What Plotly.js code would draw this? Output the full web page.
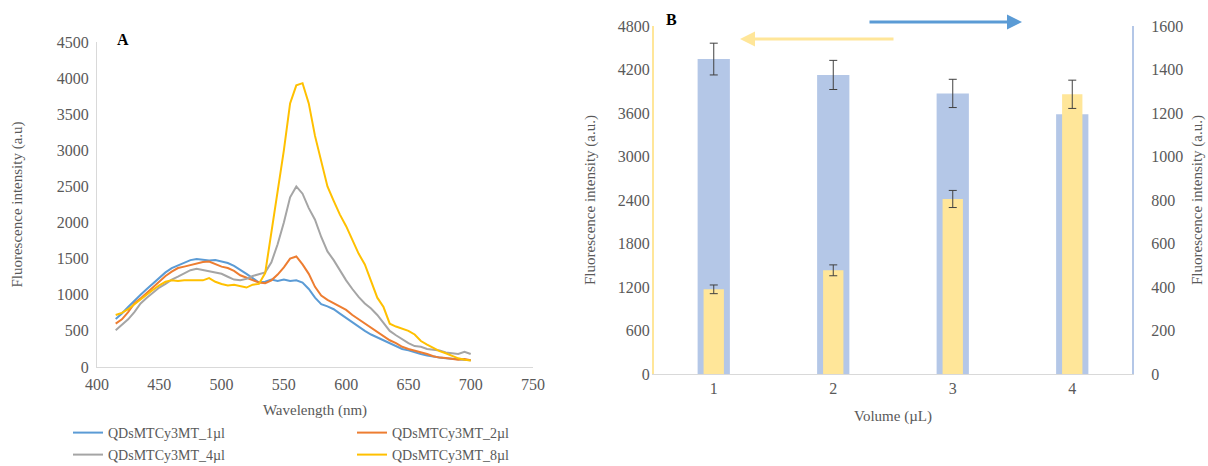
<!DOCTYPE html>
<html>
<head>
<meta charset="utf-8">
<script src="https://cdn.plot.ly/plotly-3.0.1.min.js"></script>
<style>html,body{margin:0;padding:0;background:#fff;}#chart{width:1208px;height:466px;}</style>
</head>
<body>
<div id="chart"></div>
<script>
// ---- Panel A data ----
const wavelength = [415,420,425,430,435,440,445,450,455,460,465,470,475,480,485,490,495,500,505,510,515,520,525,530,535,540,545,550,555,560,565,570,575,580,585,590,595,600,605,610,615,620,625,630,635,640,645,650,655,660,665,670,675,680,685,690,695,700];
const qd1ul = [665,740,830,920,1000,1080,1160,1240,1310,1370,1410,1440,1480,1495,1480,1475,1480,1465,1440,1400,1350,1290,1230,1170,1180,1210,1190,1210,1190,1200,1170,1080,960,870,840,800,740,680,610,550,500,450,410,370,320,290,250,230,200,180,160,140,130,120,110,105,100,95];
const qd2ul = [600,660,760,880,950,1030,1110,1180,1260,1320,1370,1390,1410,1440,1455,1460,1420,1390,1370,1330,1270,1240,1210,1170,1160,1200,1280,1380,1500,1530,1420,1290,1110,990,930,880,830,790,720,660,600,540,480,420,370,330,280,250,230,210,180,150,130,125,110,100,110,95];
const qd4ul = [510,580,660,760,880,960,1030,1100,1150,1210,1250,1300,1340,1360,1340,1330,1310,1290,1250,1210,1200,1220,1260,1290,1310,1450,1700,2000,2350,2500,2400,2200,2040,1800,1600,1480,1330,1200,1080,970,880,810,720,610,500,440,380,330,290,280,250,240,230,200,190,180,210,180];
const qd8ul = [720,750,800,870,930,1000,1070,1130,1180,1200,1190,1200,1200,1210,1200,1230,1180,1150,1130,1140,1120,1100,1140,1150,1300,1850,2400,3000,3650,3900,3930,3650,3200,2850,2500,2300,2110,1950,1750,1570,1420,1180,960,830,600,560,530,500,450,360,310,260,220,190,150,120,100,90];
const seriesNames = ["QDsMTCy3MT_1µl","QDsMTCy3MT_2µl","QDsMTCy3MT_4µl","QDsMTCy3MT_8µl"];
const xTicksA = [400,450,500,550,600,650,700,750];
const yTicksA = [0,500,1000,1500,2000,2500,3000,3500,4000,4500];

// ---- Panel B data ----
const volume = ["1","2","3","4"];
const blueVals = [1448,1375,1290,1194];     // right axis
const blueErr  = [73,67,65,0];
const yellowVals = [1168,1430,2414,3858];   // left axis
const yellowErr  = [60,75,118,195];
const yTicksBL = [0,600,1200,1800,2400,3000,3600,4200,4800];
const yTicksBR = [0,200,400,600,800,1000,1200,1400,1600];

const W = 1208, H = 466;
const px = v => v / W;
const py = v => (H - v) / H;
const FONT = "Liberation Serif, Times New Roman, serif";
const TXT = "#595959";
const TICK = {size: 16, color: TXT};

const lineColors = ["#5B9BD5","#ED7D31","#A5A5A5","#FFC000"];
const lineData = [qd1ul, qd2ul, qd4ul, qd8ul];
const legendIds = ["legend","legend","legend2","legend2"];
const traces = lineData.map((d, i) => ({
  type: "scatter", mode: "lines", x: wavelength, y: d, name: seriesNames[i],
  line: {color: lineColors[i], width: 2}, xaxis: "x", yaxis: "y", legend: legendIds[i]
}));

traces.push({
  type: "bar", x: volume, y: blueVals, xaxis: "x2", yaxis: "y2", width: 0.27,
  marker: {color: "#B4C7E7"}, showlegend: false,
  error_y: {type: "data", array: blueErr, visible: true, color: "#404040", thickness: 1, width: 4}
});
traces.push({
  type: "bar", x: volume, y: yellowVals, xaxis: "x2", yaxis: "y3", width: 0.17,
  marker: {color: "#FFE699"}, showlegend: false,
  error_y: {type: "data", array: yellowErr, visible: true, color: "#404040", thickness: 1, width: 4}
});

const legendBase = {
  orientation: "h", xanchor: "left", yanchor: "middle",
  entrywidth: 239, entrywidthmode: "pixels", tracegroupgap: 0,
  font: {family: FONT, size: 14, color: TXT}, bgcolor: "rgba(0,0,0,0)"
};

const layout = {
  width: W, height: H,
  margin: {l: 0, r: 0, t: 0, b: 0, autoexpand: false},
  paper_bgcolor: "#fff", plot_bgcolor: "rgba(0,0,0,0)",
  font: {family: FONT, size: 14, color: TXT},
  barmode: "overlay",
  showlegend: true,
  legend: Object.assign({}, legendBase, {x: px(68), y: py(433)}),
  legend2: Object.assign({}, legendBase, {x: px(68), y: py(455)}),
  xaxis: {
    domain: [px(97), px(533)], range: [400, 750], tickvals: xTicksA,
    showgrid: false, zeroline: false, showline: true, linecolor: "#D9D9D9", linewidth: 1,
    ticks: "", tickfont: TICK, anchor: "y", automargin: false, ticklabelstandoff: 3,
    title: {text: "Wavelength (nm)", font: {size: 15, color: TXT}, standoff: 12}
  },
  yaxis: {
    domain: [py(367), py(42)], range: [0, 4500], tickvals: yTicksA,
    showgrid: false, zeroline: false, showline: true, linecolor: "#D9D9D9", linewidth: 1,
    ticks: "", tickfont: TICK, anchor: "x", automargin: false, ticklabelstandoff: 4,
    title: {text: "Fluorescence intensity (a.u)", font: {size: 15, color: TXT}, standoff: 30}
  },
  xaxis2: {
    domain: [px(654), px(1132)], type: "category", range: [-0.5, 3.5],
    showgrid: false, zeroline: false, showline: true, linecolor: "#D9D9D9", linewidth: 1,
    ticks: "", tickfont: TICK, anchor: "y2", automargin: false,
    title: {text: "Volume (µL)", font: {size: 15, color: TXT}, standoff: 14}
  },
  yaxis2: {
    domain: [py(374), py(26)], range: [0, 1600], tickvals: yTicksBR, side: "right",
    showgrid: false, zeroline: false, showline: true, linecolor: "#B4C7E7", linewidth: 2,
    ticks: "", tickfont: TICK, anchor: "x2", automargin: false, ticklabelstandoff: 14,
    title: {text: "Fluorescence intensity (a.u.)", font: {size: 15, color: TXT}, standoff: 9}
  },
  yaxis3: {
    overlaying: "y2", range: [0, 4800], tickvals: yTicksBL, side: "left",
    showgrid: false, zeroline: false, showline: true, linecolor: "#FFE699", linewidth: 2,
    ticks: "", tickfont: TICK, anchor: "x2", automargin: false, ticklabelstandoff: -1,
    title: {text: "Fluorescence intensity (a.u.)", font: {size: 15, color: TXT}, standoff: 19}
  },
  annotations: [
    {text: "<b>A</b>", xref: "paper", yref: "paper", x: px(115), y: py(40), xanchor: "left", yanchor: "middle",
     showarrow: false, font: {family: FONT, size: 16, color: "#000"}},
    {text: "<b>B</b>", xref: "paper", yref: "paper", x: px(664), y: py(19), xanchor: "left", yanchor: "middle",
     showarrow: false, font: {family: FONT, size: 16, color: "#000"}},
    {text: "", xref: "paper", yref: "paper", x: px(740), y: py(39), ax: px(895), ay: py(39),
     axref: "paper", ayref: "paper", showarrow: true, arrowhead: 2, arrowsize: 1, arrowwidth: 3, arrowcolor: "#FFE699"},
    {text: "", xref: "paper", yref: "paper", x: px(1022), y: py(22), ax: px(868), ay: py(22),
     axref: "paper", ayref: "paper", showarrow: true, arrowhead: 2, arrowsize: 1, arrowwidth: 3, arrowcolor: "#5B9BD5"}
  ]
};

Plotly.newPlot("chart", traces, layout, {staticPlot: true, displayModeBar: false});
</script>
</body>
</html>
